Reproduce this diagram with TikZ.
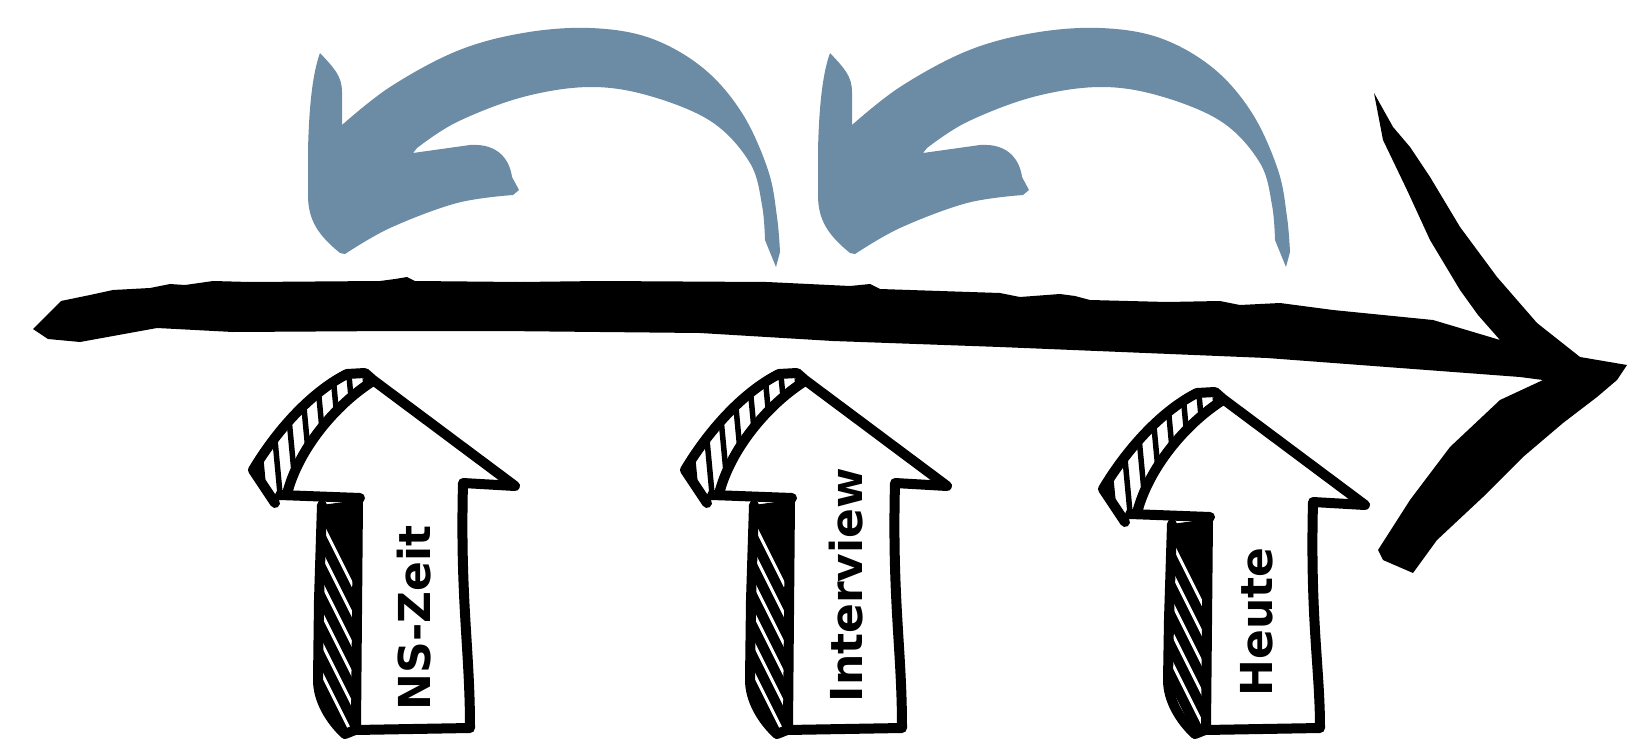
\documentclass[tikz,border=0pt]{standalone}
\usepackage{fontspec}
\newfontfamily\labelfont{DejaVu Sans}
\definecolor{arcblue}{RGB}{108,139,165}
\tikzset{
  outline/.style={black, line width=10, line cap=round, line join=round},
  hatchw/.style={white, line width=3},
  hatchb/.style={black, line width=5.5},
  lbl/.style={font=\labelfont\bfseries\fontsize{44}{44}\selectfont, rotate=90, anchor=base, inner sep=0pt},
  brush/.style={fill=black},
  bluearc/.style={fill=arcblue},
}
% #1 node name, #2 dx, #3 dy, #4 local bottom y, #5 label, #6 label base position (local)
\newcommand\drawuparrow[6]{%
\begin{scope}[shift={(#2,#3)}]
  % white face
  \fill[white] (373,381) -- (515,487) -- (462,483) .. controls (460,600) and (470,650) .. (470,#4)
     -- (356,#4) -- (358,500) -- (287,494) .. controls (298,450) and (335,405) .. (373,381) -- cycle;
  % head band hatching
  \begin{scope}
    \clip (347,374) .. controls (315,390) and (280,425) .. (253,470) -- (275,503) -- (287,494)
       .. controls (298,450) and (335,405) .. (373,381) -- cycle;
    \fill[white] (240,360) rectangle (390,520);
    \foreach \hx in {236,252,...,390} \draw[hatchb] (\hx,365) -- (\hx+14,515);
  \end{scope}
  % shaft band hatching
  \begin{scope}
    \clip (322,505) -- (358,500) -- (356,#4) -- (345,#4+6) .. controls (330,#4-8) and (318,#4-28) .. (318,#4-48) -- cycle;
    \fill[black] (300,490) rectangle (370,#4+12);
    \foreach \hy in {480,510,...,760} \draw[hatchw] (300,\hy) -- (370,\hy+140);
  \end{scope}
  % outlines
  \draw[outline] (347,374) -- (365,373) -- (373,380) -- (515,486) -- (463,483)
     .. controls (460,600) and (470,650) .. (470,#4) -- (355,#4+2);
  \draw[outline] (358,500) -- (356,#4);
  \draw[outline] (280,495) -- (360,498);
  \draw[outline] (373,381) .. controls (335,405) and (298,450) .. (287,494);
  \draw[outline] (347,374) .. controls (315,390) and (280,425) .. (253,470) -- (275,503);
  \draw[outline] (322,505) -- (319,600) -- (318,#4-48) .. controls (318,#4-28) and (330,#4-8) .. (345,#4+6) -- (355,#4+2);
  \node[lbl] (#1) at (#6) {#5};
\end{scope}}
\begin{document}
\begin{tikzpicture}[x=1pt,y=-1pt]
\useasboundingbox (0,0) rectangle (1652,744);
% blue curved arrows
\foreach \bx/\bn in {0/one,510/two}{
\begin{scope}[shift={(\bx,0)}]
\fill[bluearc] (320,53) .. controls (334,68) and (342,76) .. (342,92) -- (342,125)
  -- plot[smooth,tension=0.6] coordinates {(342,125) (390,87) (457,51) (523,33) (590,28) (650,38) (703,68) (742,113) (768,170) (777,217) (780,252)}
  -- (776,267) -- (767,245)
  -- plot[smooth,tension=0.6] coordinates {(765,240) (762,205) (750,163) (712,122) (650,96) (590,87) (523,97) (457,122) (417,148)}
  -- (413,153) -- (470,145) .. controls (500,143) and (510,162) .. (512,177) -- (519,190) -- (513,195)
  -- plot[smooth,tension=0.6] coordinates {(513,195) (457,203) (390,228) (345,254)}
  -- (340,253) .. controls (318,235) and (308,220) .. (308,195) -- (308,150)
  .. controls (309,110) and (312,75) .. (320,53) -- cycle;
\end{scope}}
% main brush timeline arrow
\fill[brush] (33,329) -- (61,301) -- (90,295) -- (113,290) -- (150,288) -- (170,284) -- (185,285) -- (213,281)
  -- (250,282) -- (380,281) -- (395,279) -- (407,277) -- (415,281) -- (520,282) -- (600,281) -- (767,282)
  -- (850,286) -- (870,284) -- (880,289) -- (1000,293) -- (1020,297) -- (1060,294) -- (1075,296) -- (1090,300)
  -- (1167,302) -- (1220,301) -- (1240,305) -- (1280,303) -- (1333,310) -- (1433,320) -- (1500,340)
  -- (1478,315) -- (1460,290) -- (1430,240) -- (1407,190) -- (1383,140) -- (1374,93)
  -- (1393,127) -- (1410,147) -- (1430,177) -- (1460,227) -- (1497,277) -- (1537,323) -- (1580,357)
  -- (1627,365) -- (1617,380) -- (1597,397) -- (1563,423) -- (1523,457) -- (1483,497) -- (1437,540)
  -- (1413,573) -- (1383,560) -- (1378,550) -- (1410,500) -- (1450,447) -- (1500,400) -- (1543,380)
  -- (1520,377) -- (1400,368) -- (1267,358) -- (1000,347) -- (833,341) -- (700,333) -- (500,331)
  -- (397,331) -- (233,332) -- (157,328) -- (80,342) -- (48,339) -- cycle;
% up arrows
\drawuparrow{nszeit}{0}{0}{728}{NS-Zeit}{430,618}
\drawuparrow{interview}{432}{0}{728}{Interview}{430,585}
\drawuparrow{heute}{850}{19}{709}{Heute}{422,603}
\end{tikzpicture}
\end{document}
